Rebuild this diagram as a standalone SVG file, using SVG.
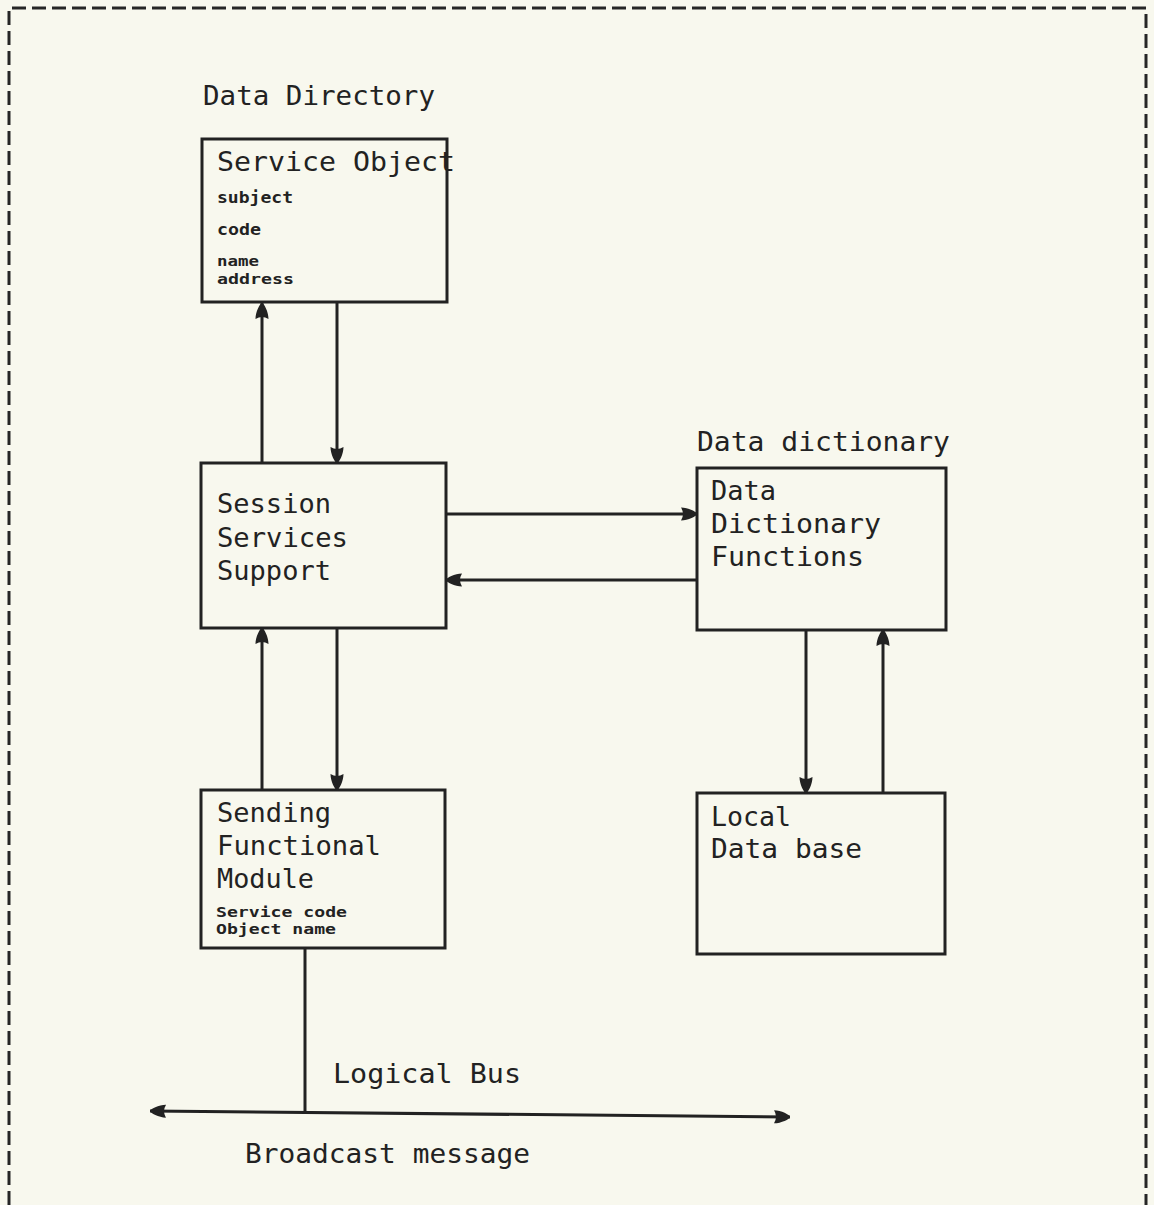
<svg xmlns="http://www.w3.org/2000/svg" width="1154" height="1205" viewBox="0 0 1154 1205">
  <defs>
    <marker id="arrow" markerUnits="userSpaceOnUse" markerWidth="18" markerHeight="16" refX="16" refY="8" orient="auto">
      <path d="M0,1.5 C7,1.5 16,6 16,8 C16,10 7,14.5 0,14.5 Q4,8 0,1.5 z" fill="#222"/>
    </marker>
    <marker id="arrowStart" markerUnits="userSpaceOnUse" markerWidth="18" markerHeight="16" refX="1" refY="8" orient="auto">
      <path d="M17,1.5 C10,1.5 1,6 1,8 C1,10 10,14.5 17,14.5 Q13,8 17,1.5 z" fill="#222"/>
    </marker>
    <style>
      .box { fill: none; stroke: #222; stroke-width: 3; }
      .line { fill: none; stroke: #222; stroke-width: 3; }
      .big { font-family: "DejaVu Sans Mono", "Liberation Mono", monospace; font-size: 27px; fill: #222; }
      .small { font-family: "DejaVu Sans Mono", "Liberation Mono", monospace; font-size: 16px; font-weight: bold; fill: #222; }
      .tight { font-size: 14px; }
      .frame { fill: none; stroke: #262626; stroke-width: 3; stroke-dasharray: 14 6; }
    </style>
  </defs>

  <rect width="1154" height="1205" fill="#f8f8ee"/>

  <!-- dashed outer frame, open at the bottom -->
  <path class="frame" d="M9,1205 V8 H1146 V1205"/>

  <!-- Data Directory: Service Object -->
  <g id="service-object">
    <text class="big" x="203" y="105" textLength="232" lengthAdjust="spacingAndGlyphs">Data Directory</text>
    <rect class="box" x="202" y="139" width="245" height="163"/>
    <text class="big" x="217" y="171" textLength="238" lengthAdjust="spacingAndGlyphs">Service Object</text>
    <text class="small" x="217" y="203" textLength="76" lengthAdjust="spacingAndGlyphs">subject</text>
    <text class="small" x="217" y="235" textLength="44" lengthAdjust="spacingAndGlyphs">code</text>
    <text class="small tight" x="217" y="266" textLength="42" lengthAdjust="spacingAndGlyphs">name</text>
    <text class="small tight" x="217" y="284" textLength="77" lengthAdjust="spacingAndGlyphs">address</text>
  </g>

  <!-- Session Services Support -->
  <g id="session-services">
    <rect class="box" x="201" y="463" width="245" height="165"/>
    <text class="big" x="217" y="513" textLength="114" lengthAdjust="spacingAndGlyphs">Session</text>
    <text class="big" x="217" y="547" textLength="131" lengthAdjust="spacingAndGlyphs">Services</text>
    <text class="big" x="217" y="580" textLength="114" lengthAdjust="spacingAndGlyphs">Support</text>
  </g>

  <!-- Sending Functional Module -->
  <g id="sending-module">
    <rect class="box" x="201" y="790" width="244" height="158"/>
    <text class="big" x="217" y="822" textLength="114" lengthAdjust="spacingAndGlyphs">Sending</text>
    <text class="big" x="217" y="855" textLength="164" lengthAdjust="spacingAndGlyphs">Functional</text>
    <text class="big" x="217" y="888" textLength="97" lengthAdjust="spacingAndGlyphs">Module</text>
    <text class="small tight" x="216" y="917" textLength="131" lengthAdjust="spacingAndGlyphs">Service code</text>
    <text class="small tight" x="216" y="934" textLength="120" lengthAdjust="spacingAndGlyphs">Object name</text>
  </g>

  <!-- Data dictionary -->
  <g id="data-dictionary">
    <text class="big" x="697" y="451" textLength="253" lengthAdjust="spacingAndGlyphs">Data dictionary</text>
    <rect class="box" x="697" y="468" width="249" height="162"/>
    <text class="big" x="711" y="500" textLength="65" lengthAdjust="spacingAndGlyphs">Data</text>
    <text class="big" x="711" y="533" textLength="170" lengthAdjust="spacingAndGlyphs">Dictionary</text>
    <text class="big" x="711" y="566" textLength="153" lengthAdjust="spacingAndGlyphs">Functions</text>
  </g>

  <!-- Local Data base -->
  <g id="local-database">
    <rect class="box" x="697" y="793" width="248" height="161"/>
    <text class="big" x="711" y="826" textLength="80" lengthAdjust="spacingAndGlyphs">Local</text>
    <text class="big" x="711" y="858" textLength="151" lengthAdjust="spacingAndGlyphs">Data base</text>
  </g>

  <!-- bus labels -->
  <g id="logical-bus">
    <text class="big" x="333" y="1083" textLength="188" lengthAdjust="spacingAndGlyphs">Logical Bus</text>
    <text class="big" x="245" y="1163" textLength="285" lengthAdjust="spacingAndGlyphs">Broadcast message</text>
  </g>

  <!-- connectors -->
  <g id="connectors">
    <path class="line" d="M262,463 V303" marker-end="url(#arrow)"/>
    <path class="line" d="M337,302 V463" marker-end="url(#arrow)"/>
    <path class="line" d="M262,790 V628" marker-end="url(#arrow)"/>
    <path class="line" d="M337,628 V790" marker-end="url(#arrow)"/>
    <path class="line" d="M446,514 H697" marker-end="url(#arrow)"/>
    <path class="line" d="M697,580 H446" marker-end="url(#arrow)"/>
    <path class="line" d="M806,630 V793" marker-end="url(#arrow)"/>
    <path class="line" d="M883,793 V630" marker-end="url(#arrow)"/>
    <path class="line" d="M305,948 V1112"/>
    <path class="line" d="M150,1111 L790,1117" marker-start="url(#arrowStart)" marker-end="url(#arrow)"/>
  </g>
</svg>
